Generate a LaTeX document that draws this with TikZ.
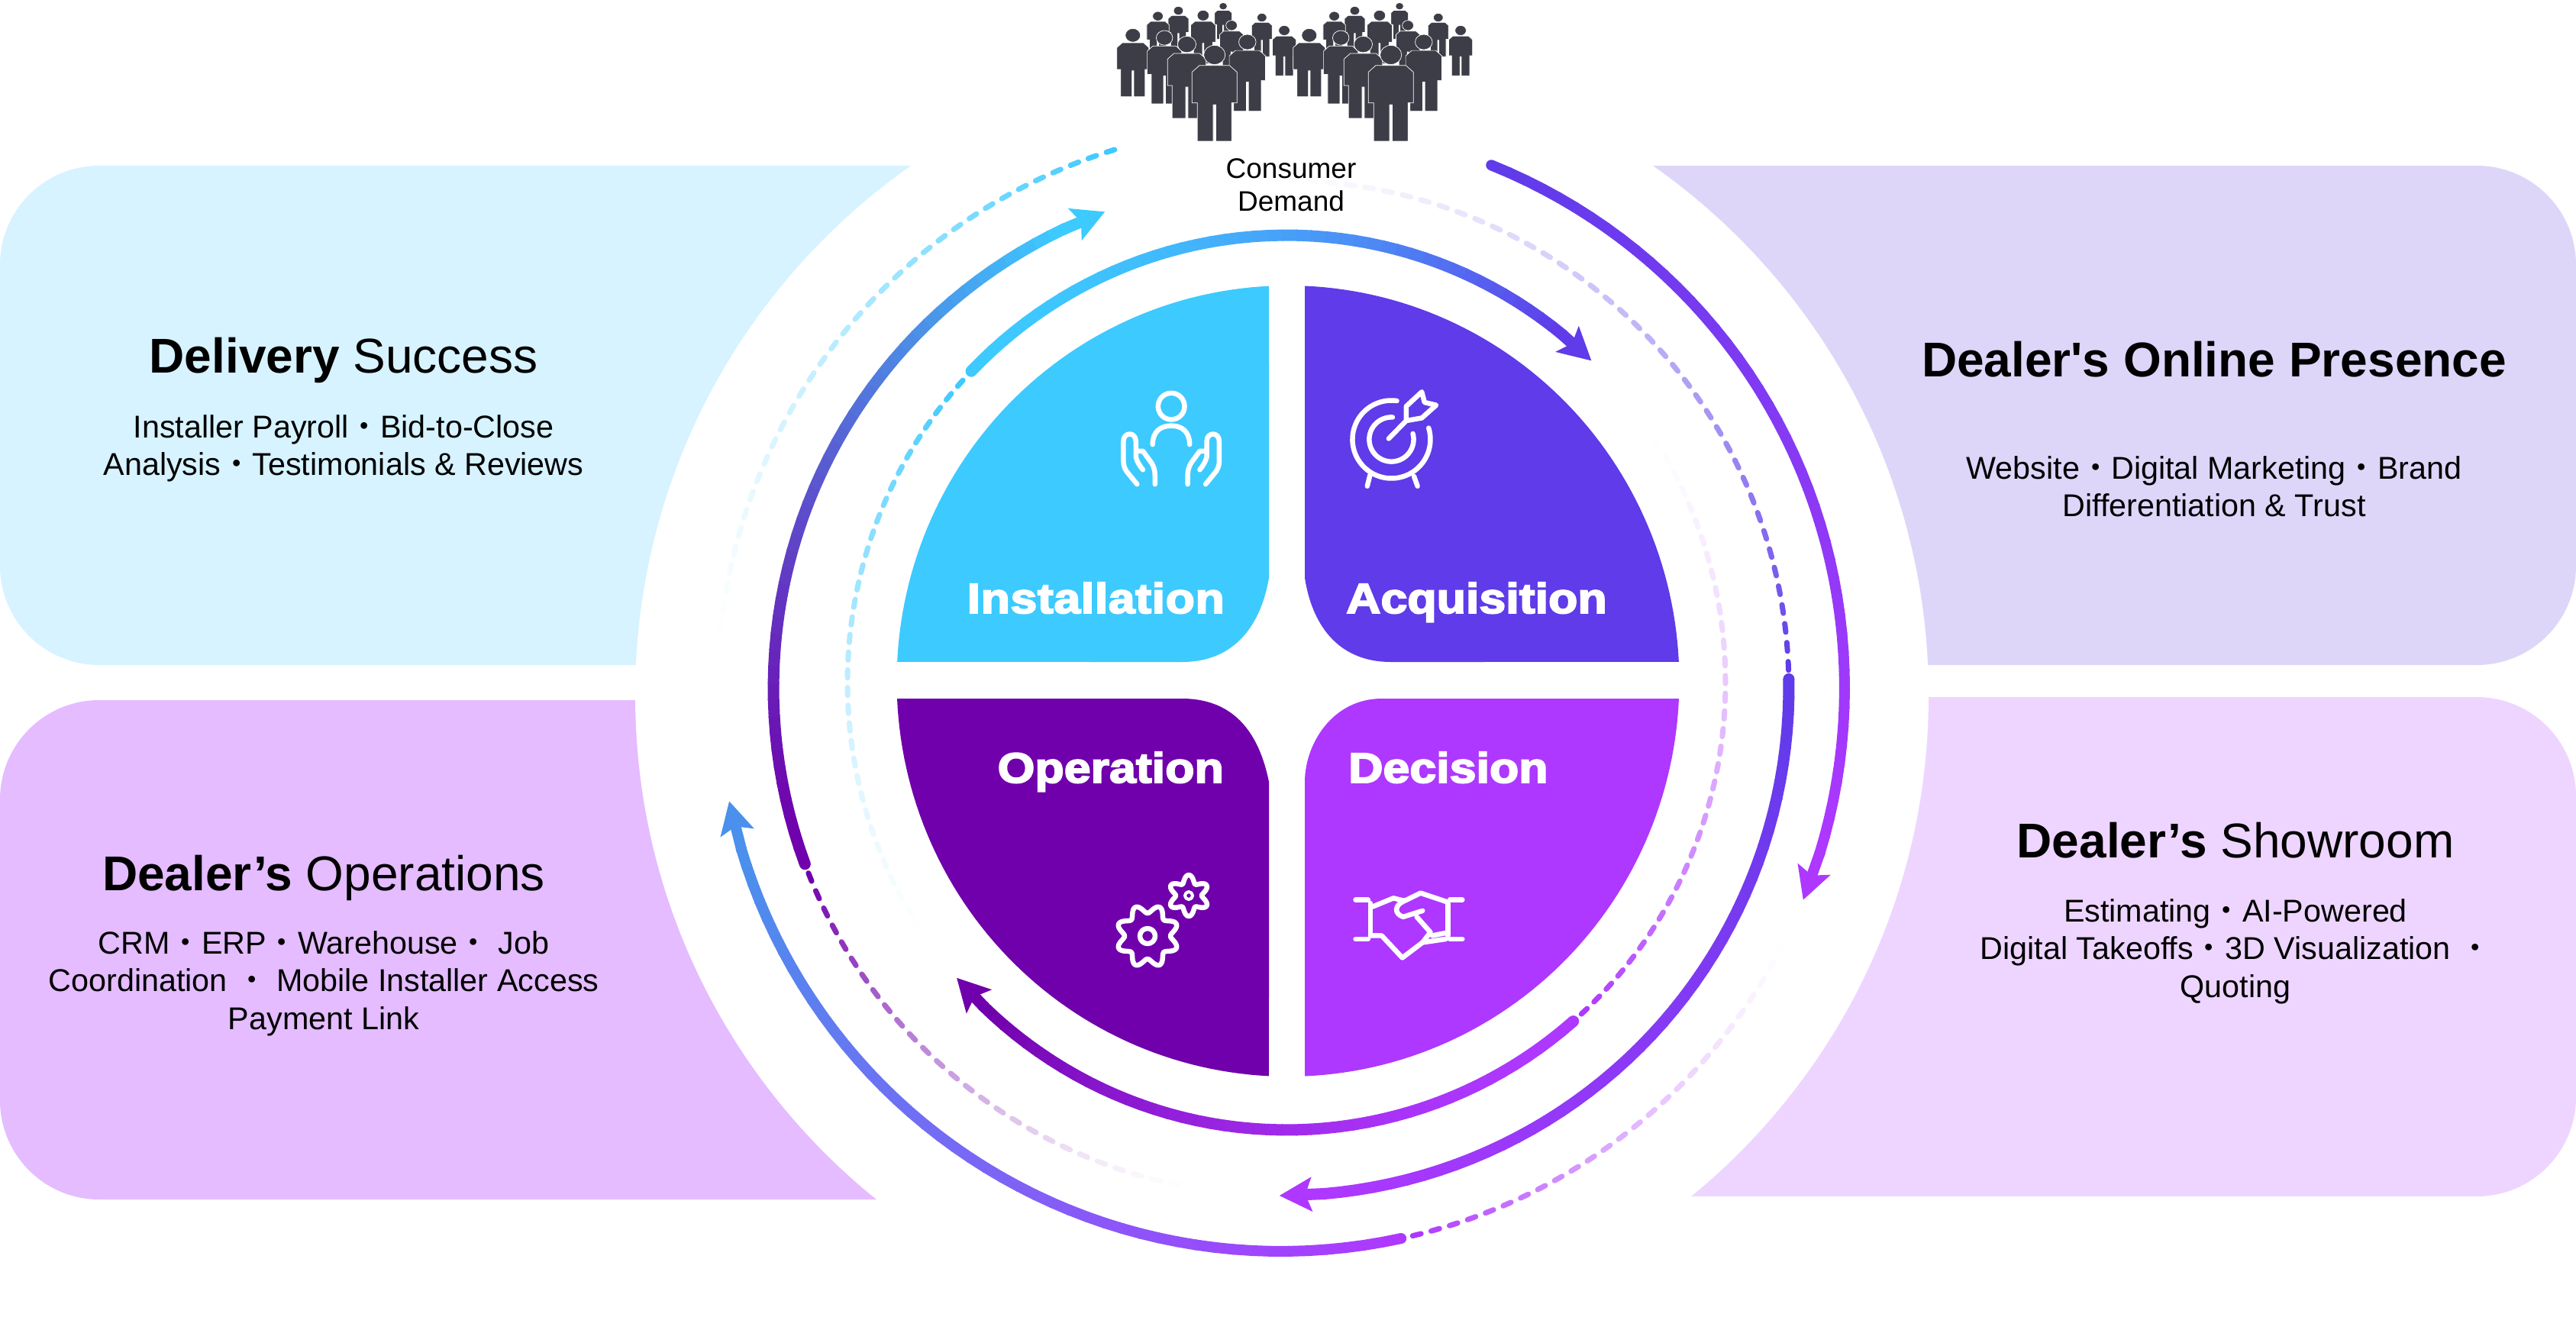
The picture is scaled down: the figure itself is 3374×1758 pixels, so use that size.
\documentclass[tikz,border=0pt]{standalone}
\usepackage{fontspec}
\setmainfont[Ligatures=TeXOff]{Liberation Sans}
\newfontfamily\cjk{Noto Sans CJK JP}
\newfontfamily\quadfont[UprightFont=* Bold,FakeBold=3.5,FakeStretch=1.13]{Liberation Sans}
\usetikzlibrary{arrows.meta}

\definecolor{skyc}{HTML}{3DCAFF}
\definecolor{indigoc}{HTML}{5F3BE9}
\definecolor{plumc}{HTML}{7000AB}
\definecolor{violetc}{HTML}{AE38FF}
\definecolor{bluec}{HTML}{4A90EC}
\definecolor{crowdc}{HTML}{3D3D48}

\newcommand{\dotsep}{{\cjk ・}}
\newcommand{\ringA}{\def\cx{1685}\def\cy{894}\def\rx{575}\def\ry{586}\def\rw{15}}
\newcommand{\ringB}{\def\cx{1678}\def\cy{901}\def\rx{665}\def\ry{665}\def\rw{15}}
\newcommand{\ringC}{\def\cx{1678}\def\cy{901}\def\rx{738}\def\ry{738}\def\rw{14}}
\newcommand{\ringpt}[1]{({\cx+\rx*cos(#1)},{\cy+\ry*sin(#1)})}

% from, to, colour at start, colour at arrow, exponent of the colour change
\newcommand{\solidarc}[5]{%
  \pgfmathsetmacro{\astep}{(#2-#1-5)/45}
  \fill[#3] \ringpt{#1} circle[radius=\rw/2];
  \foreach \i in {0,...,44}{
    \pgfmathsetmacro{\aa}{#1+\i*\astep}
    \pgfmathsetmacro{\ab}{\aa+\astep+0.15}
    \pgfmathsetmacro{\mixv}{100-100*(\i/44)^#5}
    \draw[line width=\rw pt,color=#3!\mixv!#4] \ringpt{\aa} -- \ringpt{\ab};
  }
  \draw[line width=\rw pt,color=#4,-{Stealth[length=42pt,width=44pt,inset=8pt]}] \ringpt{#2-5.2} -- \ringpt{#2};
}

% from, to, colour, period
\newcommand{\fadearc}[4]{%
  \pgfmathsetmacro{\dstep}{#4/((\rx+\ry)/2)*57.296*sign(#2-#1)}
  \pgfmathtruncatemacro{\nd}{(#2-#1)/\dstep}
  \foreach \i in {0,...,\nd}{
    \pgfmathsetmacro{\aa}{#1+\i*\dstep}
    \pgfmathsetmacro{\ab}{\aa+0.45*\dstep}
    \pgfmathsetmacro{\mixv}{100*(1-\i/\nd)^1.5}
    \draw[dashline,color=#3!\mixv!white] \ringpt{\aa} -- \ringpt{\ab};
  }
}

\begin{document}
\begin{tikzpicture}[x=1pt,y=-1pt]
  \tikzset{
    every node/.style={inner sep=0pt},
    headtext/.style={font=\fontsize{64}{72}\selectfont},
    bodytext/.style={font=\fontsize{41.3}{49.5}\selectfont,align=center},
    quadtext/.style={font=\fontsize{55.5}{60}\selectfont\quadfont,text=white},
    dashline/.style={line width=7pt,line cap=round},
    iconline/.style={draw=white,line width=6.5pt,line cap=round,line join=round},
    panel/.style={rounded corners=130pt},
    person/.pic={
      \fill[crowdc,draw=white,line width=0.7pt] (0,10) circle[radius=10];
      \fill[crowdc,draw=white,line width=0.7pt] (-21,28) -- (-14,21) -- (14,21) -- (21,28) -- (21,60) -- (16,60)
        -- (16,100) -- (1.2,100) -- (1.2,62) -- (-1.2,62) -- (-1.2,100) -- (-16,100) -- (-16,60) -- (-21,60) -- cycle;
    }
  }
  \useasboundingbox (0,0) rectangle (3374,1758);

  % side panels
  \fill[panel,fill={rgb,255:red,214;green,243;blue,255}] (0,217) rectangle (1600,871);
  \fill[panel,fill={rgb,255:red,221;green,214;blue,249}] (1800,217) rectangle (3374,871);
  \fill[panel,fill={rgb,255:red,228;green,188;blue,255}] (0,917) rectangle (1600,1571);
  \fill[panel,fill={rgb,255:red,238;green,213;blue,255}] (1800,913) rectangle (3374,1567);
  \fill[white] (1679,911) circle[radius=847];

  % quadrants
  \def\qx{1687+512.5*cos(\x)}
  \def\qy{892+518*sin(\x)}
  \fill[skyc] plot[domain=182.77:267.2,samples=60] ({\qx},{\qy}) -- (1662,757)
    .. controls (1652,815) and (1620,867) .. (1548,867) -- cycle;
  \fill[indigoc] plot[domain=-87.54:-2.77,samples=60] ({\qx},{\qy}) -- (1822,867)
    .. controls (1750,867) and (1718,815) .. (1709,757) -- cycle;
  \fill[violetc] plot[domain=2.55:87.54,samples=60] ({\qx},{\qy}) -- (1709,1024)
    .. controls (1709,975) and (1745,915) .. (1810,915) -- cycle;
  \fill[plumc] plot[domain=92.8:177.45,samples=60] ({\qx},{\qy}) -- (1548,915)
    .. controls (1620,915) and (1650,965) .. (1662,1024) -- cycle;

  % rings
  \ringA
  \fadearc{222.5}{141}{skyc}{23}
  \fadearc{47.8}{-36}{violetc}{23}
  \solidarc{224.1}{314}{skyc}{indigoc}{2}
  \solidarc{49.2}{138.7}{violetc}{plumc}{2}
  \ringB
  \fadearc{-2}{-94}{indigoc}{25}
  \fadearc{158.6}{100}{plumc}{25}
  \solidarc{-1}{90.2}{indigoc}{violetc}{1}
  \solidarc{159.7}{249.7}{plumc}{skyc}{1.3}
  \ringC
  \fadearc{76.5}{26}{violetc}{25}
  \fadearc{252.8}{181.5}{skyc}{25}
  \solidarc{-68.1}{22.1}{indigoc}{violetc}{1}
  \solidarc{77.7}{168.4}{violetc}{bluec}{1}

  % crowd
  \foreach \dx in {0,231}{
    \foreach \px/\ptop/\pfeet in {528/10/154,358/25/196,280/45/231,452/40/250,675/52/223,760/100/298,
        560/80/280,185/112/380,305/120/408,390/142/465,620/135/437,495/178/555}{
      \pgfmathsetmacro{\pscale}{(\pfeet-\ptop)/300}
      \pic[xscale=1.12*\pscale,yscale=\pscale] at ({1420+\px/2.9+\dx},{\ptop/3}) {person};
    }
  }
  \node[font=\fontsize{37}{43}\selectfont,align=center] (demand) at (1691,242) {Consumer\\Demand};

  % icons
  \begin{scope}[shift={(900,300)},scale=0.5102]
    \draw[iconline] (1243,455) circle[radius=34];
    \draw[iconline] (1195,553) .. controls (1195,520) and (1215,505) .. (1243,505) .. controls (1270,505) and (1290,520) .. (1290,553);
    \draw[iconline] (1155,655) -- (1128,622) .. controls (1122,612) and (1120,605) .. (1120,595) -- (1120,545)
      .. controls (1120,520) and (1152,520) .. (1152,545) -- (1152,585) .. controls (1155,597) and (1160,605) .. (1170,618);
    \draw[iconline] (1155,570) -- (1170,570) -- (1192,600) .. controls (1198,610) and (1201,620) .. (1201,632) -- (1201,655);
    \draw[iconline] (1331,655) -- (1358,622) .. controls (1364,612) and (1366,605) .. (1366,595) -- (1366,545)
      .. controls (1366,520) and (1334,520) .. (1334,545) -- (1334,585) .. controls (1331,597) and (1326,605) .. (1316,618);
    \draw[iconline] (1331,570) -- (1316,570) -- (1294,600) .. controls (1288,610) and (1285,620) .. (1285,632) -- (1285,655);
  \end{scope}
  \begin{scope}[shift={(1700,300)},scale=0.5102]
    \draw[iconline] plot[domain=-82:-377,samples=60] ({240+100*cos(\x)},{540+100*sin(\x)});
    \draw[iconline] plot[domain=-87:-375,samples=50] ({240+57*cos(\x)},{540+57*sin(\x)});
    \draw[iconline] (233,538) -- (278,492) -- (278,455) -- (318,418) -- (325,445) -- (355,452) -- (318,485) -- (278,492);
    \draw[iconline] (185,632) -- (178,660);
    \draw[iconline] (298,635) -- (307,660);
  \end{scope}
  \begin{scope}[shift={(1700,1000)},xscale=0.5102,yscale=0.4464]
    \draw[iconline] (148,400) -- (180,400) (186,410) -- (186,505) (148,515) -- (180,515);
    \draw[iconline] (390,400) -- (422,400) (385,410) -- (385,505) (390,515) -- (422,515);
    \draw[iconline] (192,420) -- (245,395) -- (270,402);
    \draw[iconline] (320,432) -- (270,450) .. controls (245,440) and (250,415) .. (270,405) -- (315,380) -- (380,405);
    \draw[iconline] (305,450) -- (340,495) -- (320,525) -- (268,570) -- (215,505) -- (186,505);
    \draw[iconline] (320,525) -- (380,515);
    \draw[iconline] (345,505) -- (380,497);
  \end{scope}
  \def\gearpath#1#2#3#4#5#6{plot[domain=0:360,samples=#6] ({#1+(#3+#4*cos(#5*(\x-90/#5*2)))*cos(\x)},{#2+(#3+#4*cos(#5*(\x-90/#5*2)))*sin(\x)})}
  \draw[iconline] \gearpath{1503}{1226}{35.5}{5.5}{8}{145} -- cycle;
  \draw[iconline] (1503,1226) circle[radius=10];
  \draw[iconline] \gearpath{1557}{1173}{22}{5}{6}{109} -- cycle;
  \draw[iconline,line width=4pt] (1557,1173) circle[radius=5];

  % quadrant labels
  \node[quadtext,anchor=base east] (install) at (1604,803) {\addfontfeature{LetterSpace=1}Installation};
  \node[quadtext,anchor=base west] (acquire) at (1763,803) {Acquisition};
  \node[quadtext,anchor=base west] (decide) at (1766,1025) {Decision};
  \node[quadtext,anchor=base east] (operate) at (1603,1025) {Operation};

  % panel texts
  \node[headtext,anchor=base] (hdelivery) at (450,488) {\textbf{Delivery} Success};
  \node[bodytext,anchor=north] (bdelivery) at (450,543) {Installer Payroll\dotsep Bid-to-Close\\Analysis\dotsep Testimonials \& Reviews};
  \node[headtext,anchor=base] (hoperations) at (424,1166) {\textbf{Dealer’s} Operations};
  \node[bodytext,anchor=north] (boperations) at (424,1219) {CRM\dotsep ERP\dotsep Warehouse\dotsep\ Job\\Coordination \dotsep\ Mobile Installer Access\\Payment Link};
  \node[headtext,anchor=base] (honline) at (2900,493) {\textbf{Dealer's Online Presence}};
  \node[bodytext,anchor=north] (bonline) at (2900,597) {Website\dotsep Digital Marketing\dotsep Brand\\Differentiation \& Trust};
  \node[headtext,anchor=base] (hshowroom) at (2928,1123) {\textbf{Dealer’s} Showroom};
  \node[bodytext,anchor=north] (bshowroom) at (2928,1177) {Estimating\dotsep AI-Powered\\Digital Takeoffs\dotsep 3D Visualization \dotsep\\Quoting};
\end{tikzpicture}
\end{document}
